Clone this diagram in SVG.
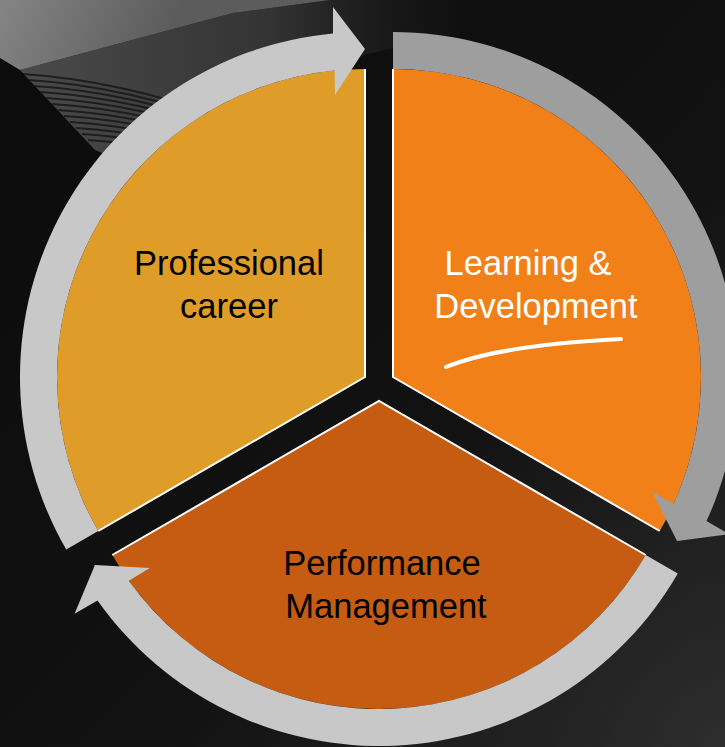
<svg xmlns="http://www.w3.org/2000/svg" width="725" height="747" viewBox="0 0 725 747">
  <defs>
    <linearGradient id="bg" x1="0" y1="0" x2="1" y2="1">
      <stop offset="0" stop-color="#0b0b0b"/>
      <stop offset="0.6" stop-color="#121212"/>
      <stop offset="1" stop-color="#2a2a2a"/>
    </linearGradient>
    <radialGradient id="glow" cx="725" cy="747" r="320" gradientUnits="userSpaceOnUse">
      <stop offset="0" stop-color="#2e2e2e" stop-opacity="1"/>
      <stop offset="1" stop-color="#1a1a1a" stop-opacity="0"/>
    </radialGradient>
    <linearGradient id="light" x1="0" y1="0" x2="150" y2="70" gradientUnits="userSpaceOnUse">
      <stop offset="0" stop-color="#858585"/>
      <stop offset="1" stop-color="#5c5c5c"/>
    </linearGradient>
    <linearGradient id="pipe" x1="20" y1="40" x2="480" y2="40" gradientUnits="userSpaceOnUse">
      <stop offset="0" stop-color="#4a4a4a" stop-opacity="1"/>
      <stop offset="0.55" stop-color="#333333" stop-opacity="1"/>
      <stop offset="1" stop-color="#1c1c1c" stop-opacity="0"/>
    </linearGradient>
    <clipPath id="pipeClip">
      <polygon points="20,70 233,13 330,0 490,0 470,30 300,70 120,160 95,150"/>
    </clipPath>
    <path id="sector" d="M0,0 L-266.74,154 A308,308 0 0 1 0,-308 Z"/>
    <path id="edges" d="M-266.74,154 L0,0 L0,-308"/>
    <path id="arrow" d="M-266.74,154 L-298.78,172.5 A345,345 0 0 1 -32,-343.51 L-32,-370 L0,-328 L-30,-282 L-30.5,-306.49 A308,308 0 0 0 -266.74,154 Z"/>
    <style>
      .edge { fill: none; stroke: #ffffff; stroke-width: 2; stroke-linejoin: miter; }
      .groove { fill: none; stroke: #141414; stroke-width: 2; stroke-opacity: 0.8; }
      .lbl { font-family: "Liberation Sans", Arial, sans-serif; font-size: 34.5px; text-anchor: middle; }
      .dark { fill: #000000; }
      .white { fill: #ffffff; }
    </style>
  </defs>

  <!-- background photo approximation -->
  <g id="background">
    <rect width="725" height="747" fill="url(#bg)"/>
    <rect width="725" height="747" fill="url(#glow)"/>
    <polygon points="20,70 233,13 330,0 490,0 470,30 300,70 120,160 95,150" fill="url(#pipe)"/>
    <polygon points="0,0 330,0 233,13 20,70 0,58" fill="url(#light)"/>
    <g clip-path="url(#pipeClip)">
      <path class="groove" d="M22,74 Q120,80 230,120"/>
      <path class="groove" d="M28,80 Q126,86 236,126"/>
      <path class="groove" d="M34,86 Q132,92 242,132"/>
      <path class="groove" d="M40,92 Q138,98 248,138"/>
      <path class="groove" d="M46,98 Q144,104 254,144"/>
      <path class="groove" d="M52,104 Q150,110 260,150"/>
      <path class="groove" d="M58,110 Q156,116 266,156"/>
      <path class="groove" d="M64,116 Q162,122 272,162"/>
      <path class="groove" d="M70,122 Q168,128 278,168"/>
      <path class="groove" d="M76,128 Q174,134 284,174"/>
      <path class="groove" d="M82,134 Q180,140 290,180"/>
      <path class="groove" d="M88,140 Q186,146 296,186"/>
    </g>
  </g>

  <!-- pie sectors -->
  <g id="node-professional-career">
    <use href="#sector" transform="translate(365,377)" fill="#DF9C29"/>
    <use href="#edges" transform="translate(365,377)" class="edge"/>
    <text class="lbl dark" x="229" y="275">Professional</text>
    <text class="lbl dark" x="229" y="318">career</text>
  </g>

  <g id="node-learning-development">
    <use href="#sector" transform="translate(393,377) rotate(120)" fill="#F08017"/>
    <use href="#edges" transform="translate(393,377) rotate(120)" class="edge"/>
    <text class="lbl white" x="528" y="275">Learning &amp;</text>
    <text class="lbl white" x="536" y="318">Development</text>
    <path d="M446,367 Q500,345 621,339" fill="none" stroke="#ffffff" stroke-width="4" stroke-linecap="round"/>
  </g>

  <g id="node-performance-management">
    <use href="#sector" transform="translate(379,401) rotate(240)" fill="#C65C12"/>
    <use href="#edges" transform="translate(379,401) rotate(240)" class="edge"/>
    <text class="lbl dark" x="382" y="575">Performance</text>
    <text class="lbl dark" x="386" y="618">Management</text>
  </g>

  <!-- circular arrow connectors -->
  <g id="connectors">
    <use href="#arrow" transform="translate(365,377)" fill="#C8C8C8"/>
    <use href="#arrow" transform="translate(393,377) rotate(120)" fill="#9E9E9E"/>
    <use href="#arrow" transform="translate(379,401) rotate(240)" fill="#C8C8C8"/>
  </g>
</svg>
